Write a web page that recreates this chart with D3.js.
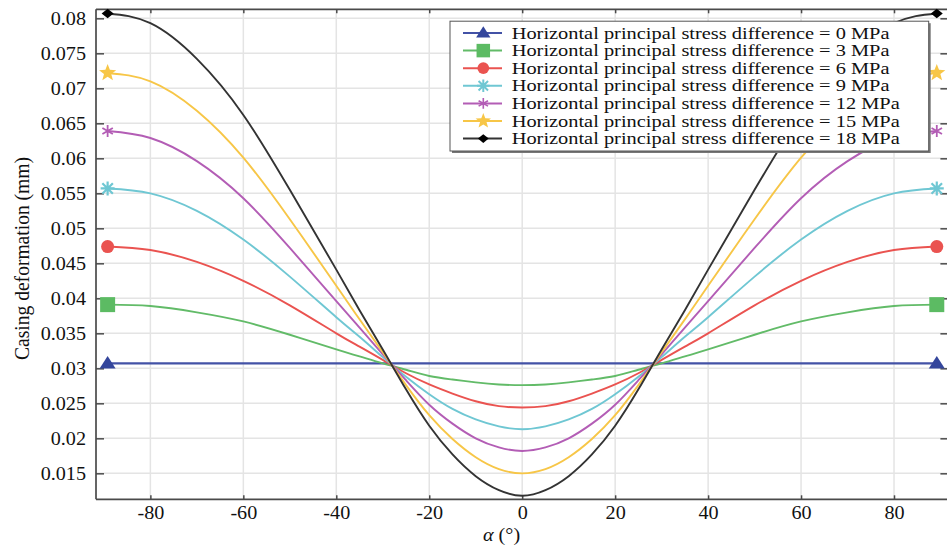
<!DOCTYPE html>
<html><head><meta charset="utf-8">
<script src="https://cdn.jsdelivr.net/npm/d3@7"></script>
<style>
body{margin:0;background:#fff}
svg{display:block}
text{font-family:"Liberation Serif","Times New Roman",serif;fill:#111}
</style>
</head><body>
<svg id="chart" width="947" height="546"></svg>
<script>
// ---------- data ----------
const angles = [-89.2,-80,-70,-60,-50,-40,-35,-30,-25,-20,-15,-10,-5,0,5,10,15,20,25,30,35,40,50,60,70,80,89.2];
const diff0  = [0.0307,0.0307,0.0307,0.0307,0.0307,0.0307,0.0307,0.0307,0.0307,0.0307,0.0307,0.0307,0.0307,0.0307,0.0307,0.0307,0.0307,0.0307,0.0307,0.0307,0.0307,0.0307,0.0307,0.0307,0.0307,0.0307,0.0307];
const diff3  = [0.0391,0.0389,0.0380,0.0367,0.0348,0.0327,0.0317,0.0307,0.0298,0.0289,0.0284,0.0280,0.0277,0.0276,0.0277,0.0280,0.0284,0.0289,0.0298,0.0307,0.0317,0.0327,0.0348,0.0367,0.0380,0.0389,0.0391];
const diff6  = [0.0474,0.0469,0.0452,0.0425,0.0390,0.0350,0.0331,0.0312,0.0293,0.0277,0.0264,0.0253,0.0246,0.0244,0.0246,0.0253,0.0264,0.0277,0.0293,0.0312,0.0331,0.0350,0.0390,0.0425,0.0452,0.0469,0.0474];
const diff9  = [0.0557,0.0550,0.0525,0.0484,0.0431,0.0373,0.0345,0.0316,0.0288,0.0263,0.0242,0.0227,0.0217,0.0213,0.0217,0.0227,0.0242,0.0263,0.0288,0.0316,0.0345,0.0373,0.0431,0.0484,0.0525,0.0550,0.0557];
const diff12 = [0.0639,0.0629,0.0596,0.0543,0.0472,0.0396,0.0358,0.0320,0.0283,0.0248,0.0221,0.0200,0.0187,0.0182,0.0187,0.0200,0.0221,0.0248,0.0283,0.0320,0.0358,0.0396,0.0472,0.0543,0.0596,0.0629,0.0639];
const diff15 = [0.0722,0.0710,0.0668,0.0601,0.0513,0.0418,0.0370,0.0323,0.0276,0.0233,0.0199,0.0173,0.0156,0.0150,0.0156,0.0173,0.0199,0.0233,0.0276,0.0323,0.0370,0.0418,0.0513,0.0601,0.0668,0.0710,0.0722];
const diff18 = [0.0807,0.0793,0.0742,0.0662,0.0555,0.0441,0.0383,0.0327,0.0270,0.0218,0.0177,0.0146,0.0126,0.0118,0.0126,0.0146,0.0177,0.0218,0.0270,0.0327,0.0383,0.0441,0.0555,0.0662,0.0742,0.0793,0.0807];
const seriesNames = ["Horizontal principal stress difference = 0 MPa","Horizontal principal stress difference = 3 MPa","Horizontal principal stress difference = 6 MPa","Horizontal principal stress difference = 9 MPa","Horizontal principal stress difference = 12 MPa","Horizontal principal stress difference = 15 MPa","Horizontal principal stress difference = 18 MPa"];
const xTicks = [-80,-60,-40,-20,0,20,40,60,80];
const yTicks = [0.015,0.02,0.025,0.03,0.035,0.04,0.045,0.05,0.055,0.06,0.065,0.07,0.075,0.08];
const xTitleSymbol = "α";
const xTitleUnit = " (°)";
const yTitle = "Casing deformation (mm)";

// ---------- styles ----------
const allSeries = [diff0,diff3,diff6,diff9,diff12,diff15,diff18];
const colors  = ["#4352a6","#62bb68","#ea5350","#6fc7d3","#b35db5","#f7c647","#333333"];
const mColors = ["#34469c","#5cbb63","#ea5350","#6fc7d3","#b35db5","#f7c647","#000000"];
const markers = ["triangle","square","circle","snow","asterisk","star","diamond"];

const svg = d3.select("#chart");
const L = 96, R = 948.4, T = 9.3, B = 499.3;
const x = d3.scaleLinear().domain([-91.7, 91.7]).range([L, R]);
const y = d3.scaleLinear().domain([0.01129, 0.08129]).range([B, T]);
const FS = 18, STRETCH = 1.12;
const LFS = 15.8, LSTRETCH = 1.29;

function stretch(sel, f){
  sel.each(function(){
    const len = this.getComputedTextLength();
    this.setAttribute("textLength", len*f);
    this.setAttribute("lengthAdjust","spacingAndGlyphs");
  });
}

// grid
const grid = svg.append("g");
grid.selectAll("line.v").data(xTicks).join("line")
  .attr("x1",d=>x(d)).attr("x2",d=>x(d)).attr("y1",T).attr("y2",B)
  .attr("stroke","#e4e4e4").attr("stroke-width",1.5);
grid.selectAll("line.h").data(yTicks).join("line")
  .attr("y1",d=>y(d)).attr("y2",d=>y(d)).attr("x1",L).attr("x2",R)
  .attr("stroke","#e4e4e4").attr("stroke-width",1.5);

// axes
const axisColor = "#4a4a4a";
const gx = svg.append("g").attr("transform",`translate(0,${B})`)
  .call(d3.axisBottom(x).tickValues(xTicks).tickFormat(d=>String(d)).tickSizeInner(-4).tickSizeOuter(0).tickPadding(7));
const gy = svg.append("g").attr("transform",`translate(${L},0)`)
  .call(d3.axisLeft(y).tickValues(yTicks).tickFormat(d=>String(+d.toFixed(3))).tickSizeInner(-8).tickSizeOuter(0).tickPadding(10));
const gt = svg.append("g").attr("transform",`translate(0,${T})`)
  .call(d3.axisTop(x).tickValues(xTicks).tickFormat("").tickSizeInner(-4).tickSizeOuter(0));
const gr = svg.append("g").attr("transform",`translate(${R},0)`)
  .call(d3.axisRight(y).tickValues(yTicks).tickFormat("").tickSizeInner(-8).tickSizeOuter(0));
[gx,gy,gt,gr].forEach(g=>{
  g.select(".domain").attr("stroke",axisColor).attr("stroke-width",1.7);
  g.selectAll(".tick line").attr("stroke",axisColor).attr("stroke-width",1.5);
  g.selectAll("text").attr("font-size",FS).attr("font-family","'Liberation Serif',serif").attr("fill","#111");
});
gx.select(".domain").attr("d",`M${L},0H${R}`);
gt.select(".domain").attr("d",`M${L},0H${R}`);
gy.select(".domain").attr("d",`M0,${B}V${T}`);
gr.select(".domain").attr("d",`M0,${B}V${T}`);
stretch(gx.selectAll("text"), STRETCH);
stretch(gy.selectAll("text"), STRETCH);

// titles
const xt = svg.append("text").attr("x",483).attr("y",540.5).attr("font-size",FS);
xt.append("tspan").attr("font-style","italic").text(xTitleSymbol);
xt.append("tspan").text(xTitleUnit);
stretch(xt, STRETCH);
svg.append("text").attr("transform","translate(28.5,258.5) rotate(-90)")
  .attr("text-anchor","middle").attr("font-size",20).attr("textLength",203)
  .attr("lengthAdjust","spacingAndGlyphs").text(yTitle);

// markers
function drawMarker(g, type, cx, cy, color, s){
  s = s || 1;
  const gg = g.append("g").attr("transform",`translate(${cx},${cy}) scale(${s})`);
  if(type==="triangle"){
    gg.append("path").attr("d","M0,-7.5L8,5L-8,5Z").attr("fill",color);
  } else if(type==="square"){
    gg.append("rect").attr("x",-7.5).attr("y",-7.5).attr("width",15).attr("height",15).attr("fill",color);
  } else if(type==="circle"){
    gg.append("circle").attr("r",6.5).attr("fill",color);
  } else if(type==="snow"){
    const r=7;
    gg.append("path").attr("d",`M${-r},0H${r}M0,${-r}V${r}M${-r*0.75},${-r*0.75}L${r*0.75},${r*0.75}M${-r*0.75},${r*0.75}L${r*0.75},${-r*0.75}`)
      .attr("stroke",color).attr("stroke-width",2.2).attr("fill","none");
  } else if(type==="asterisk"){
    const r=6;
    gg.append("path").attr("d",`M0,${-r}V${r}M${-r*0.87},${-r*0.5}L${r*0.87},${r*0.5}M${-r*0.87},${r*0.5}L${r*0.87},${-r*0.5}`)
      .attr("stroke",color).attr("stroke-width",1.8).attr("fill","none");
  } else if(type==="star"){
    const pts=[]; const ro=9, ri=3.8;
    for(let i=0;i<10;i++){const a=-Math.PI/2+i*Math.PI/5; const rr=i%2?ri:ro; pts.push([rr*Math.cos(a), rr*Math.sin(a)]);}
    gg.append("path").attr("d","M"+pts.map(p=>p.join(",")).join("L")+"Z").attr("fill",color);
  } else if(type==="diamond"){
    gg.append("path").attr("d","M0,-4.8L6,0L0,4.8L-6,0Z").attr("fill",color);
  }
}

// lines
const line = d3.line().x(d=>x(d[0])).y(d=>y(d[1])).curve(d3.curveNatural);
const plot = svg.append("g");
allSeries.forEach((vals,i)=>{
  const pts = angles.map((a,j)=>[a, vals[j]]);
  plot.append("path").attr("d", line(pts)).attr("fill","none")
    .attr("stroke",colors[i]).attr("stroke-width", i===0?2.2:1.9);
});
allSeries.forEach((vals,i)=>{
  drawMarker(plot, markers[i], x(angles[0]), y(vals[0]), mColors[i]);
  drawMarker(plot, markers[i], x(angles[angles.length-1]), y(vals[vals.length-1]), mColors[i]);
});

// legend
const lg = svg.append("g");
const lx = 450, ly = 21.2, lw = 478.7, lh = 129.8;
lg.append("rect").attr("x",lx+2).attr("y",ly+2).attr("width",lw).attr("height",lh).attr("fill","#777");
lg.append("rect").attr("x",lx).attr("y",ly).attr("width",lw).attr("height",lh).attr("fill","#fff")
  .attr("stroke","#555").attr("stroke-width",1);
const rowY = d3.scalePoint().domain(d3.range(seriesNames.length)).range([33, 138.6]);
seriesNames.forEach((name,i)=>{
  const cy = rowY(i);
  lg.append("line").attr("x1",463).attr("x2",502).attr("y1",cy).attr("y2",cy)
    .attr("stroke",colors[i]).attr("stroke-width",2);
  drawMarker(lg, markers[i], 483.3, cy, mColors[i], 0.9);
  const t = lg.append("text").attr("x",511.7).attr("y",cy+5.5).attr("font-size",LFS).text(name);
  stretch(t, LSTRETCH);
});
</script>
</body></html>
